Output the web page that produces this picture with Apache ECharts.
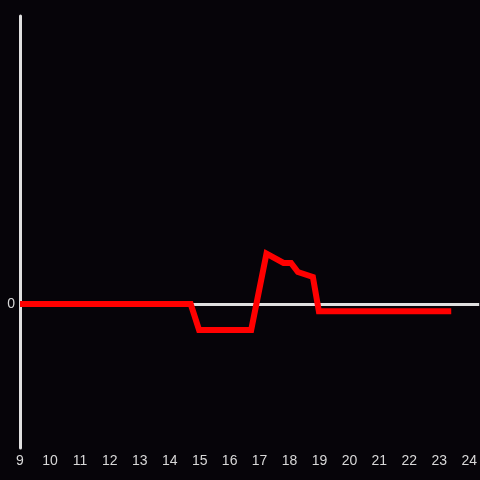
<!DOCTYPE html>
<html><head><meta charset="utf-8">
<script src="https://cdn.jsdelivr.net/npm/echarts@6/dist/echarts.min.js"></script>
<style>html,body{margin:0;padding:0;background:#060409;}#c{width:480px;height:480px;}</style>
</head><body><div id="c"></div>
<script>
var xValues = [9, 14.7, 14.98, 16.72, 17.23, 17.8, 18.05, 18.28, 18.78, 18.98, 23.4];
var yValues = [0, 0, -0.18, -0.18, 0.35, 0.285, 0.285, 0.222, 0.188, -0.05, -0.05];
var xTicks = [9,10,11,12,13,14,15,16,17,18,19,20,21,22,23,24];
var yTicks = [0];

var chart = echarts.init(document.getElementById('c'));
chart.setOption({
  backgroundColor: '#060409',
  animation: false,
  grid: {left: 20, right: 0, top: 16, bottom: 32, containLabel: false},
  xAxis: {
    type: 'value', min: 9, max: 24.333, interval: 1,
    axisLine: {show: false}, axisTick: {show: false}, splitLine: {show: false},
    axisLabel: {color: '#d8d8d8', fontSize: 14, margin: 6, fontFamily: 'Liberation Sans, Arial, sans-serif',
      showMaxLabel: false,
      formatter: function (v) { return xTicks.indexOf(v) >= 0 ? String(v) : ''; }}
  },
  yAxis: {
    type: 'value', min: -1, max: 2, interval: 1,
    axisLine: {show: true, onZero: false, lineStyle: {color: '#e0e0e0', width: 3}},
    axisTick: {show: false}, splitLine: {show: false},
    axisLabel: {color: '#d8d8d8', fontSize: 14, margin: 5, padding: [4, 0, 0, 0], fontFamily: 'Liberation Sans, Arial, sans-serif',
      formatter: function (v) { return yTicks.indexOf(v) >= 0 ? String(v) : ''; }}
  },
  series: [{
    type: 'line',
    data: xValues.map(function (x, i) { return [x, yValues[i]]; }),
    showSymbol: false,
    lineStyle: {color: '#ff0000', width: 6, join: 'miter'},
    z: 3,
    markLine: {
      silent: true, symbol: 'none', label: {show: false},
      lineStyle: {color: '#e0e0e0', width: 3, type: 'solid'},
      data: [{yAxis: 0}],
      z: 1
    }
  }]
});
</script></body></html>
